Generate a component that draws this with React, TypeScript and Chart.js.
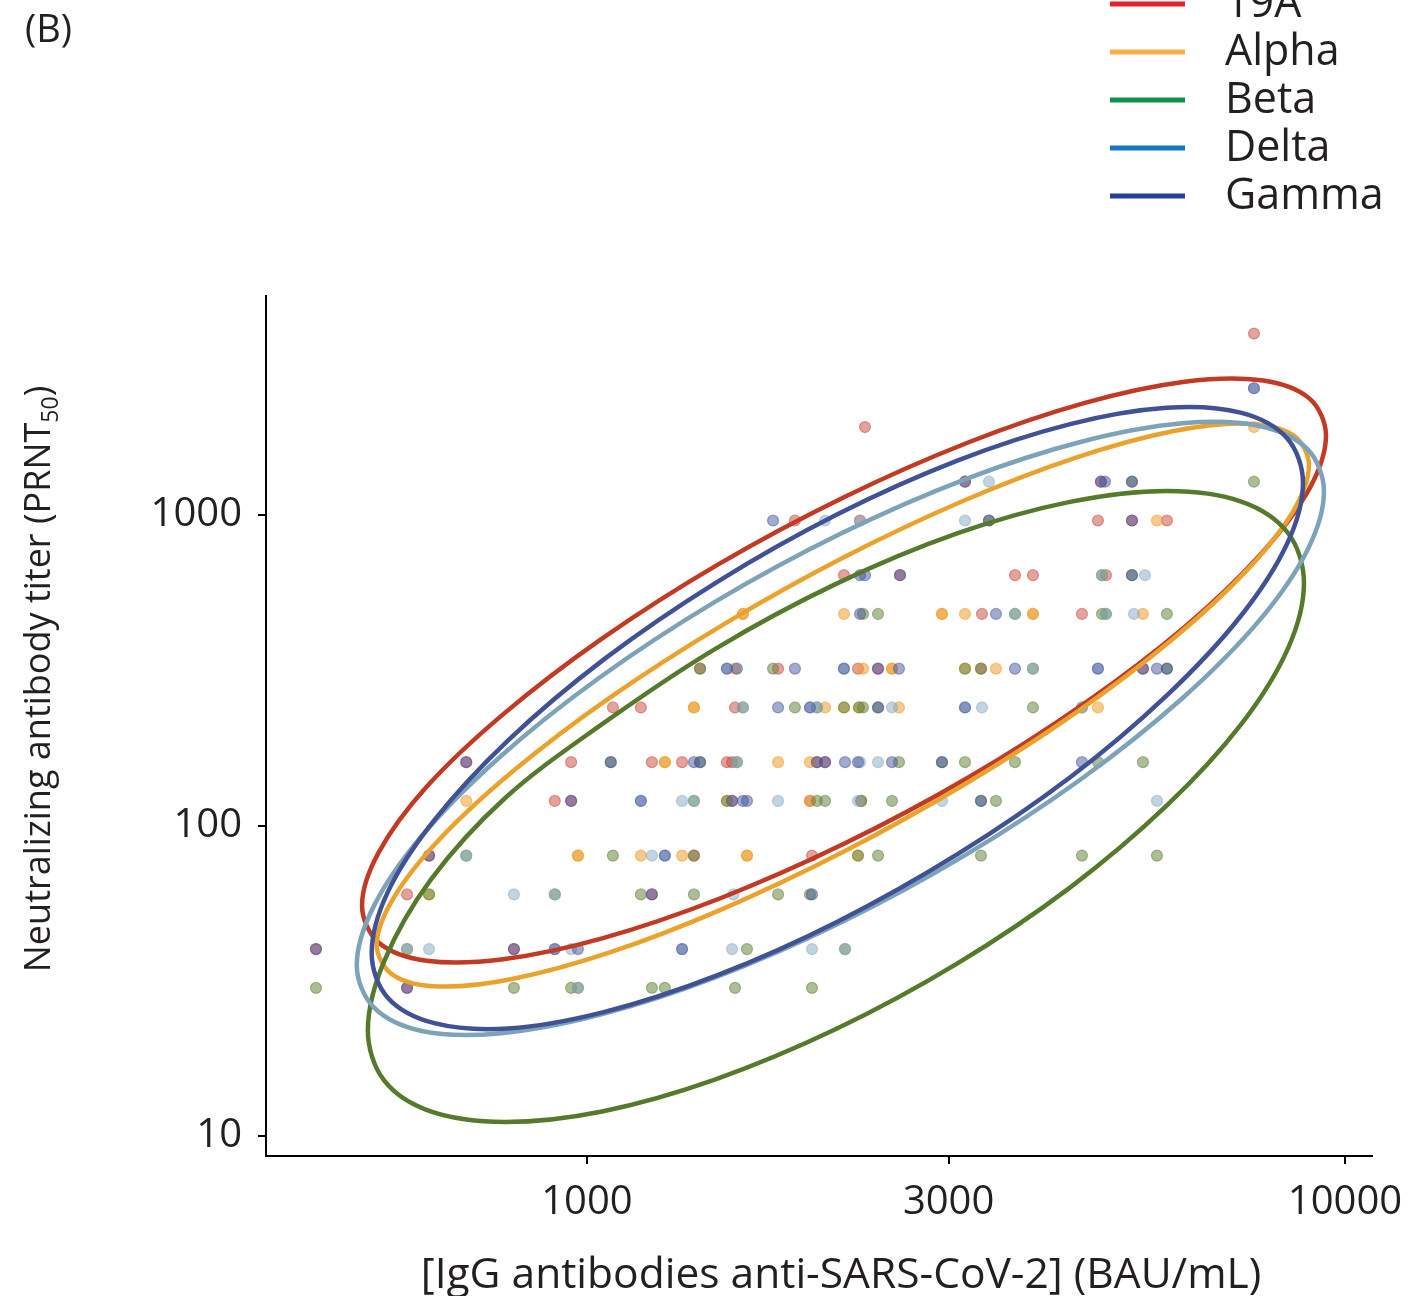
import React, { useEffect, useRef } from 'react';
import { Chart, registerables } from 'chart.js';
Chart.register(...registerables);

const variants = ['19A', 'Alpha', 'Beta', 'Delta', 'Gamma'];
const legendColors = ['#e8202a', '#f9ae45', '#10904a', '#1475c2', '#24409a'];
const ellipseColors = ['#c23a24', '#eba22c', '#567a2c', '#7ca3b9', '#405295'];
const pointColors = [
  'rgba(200,70,58,0.5)',
  'rgba(238,158,45,0.55)',
  'rgba(105,135,65,0.55)',
  'rgba(135,170,195,0.5)',
  'rgba(70,85,160,0.5)',
];
const xTicks = [1000, 3000, 10000];
const yTicks = [10, 100, 1000];
const xTitle = '[IgG antibodies anti-SARS-CoV-2] (BAU/mL)';
const yTitleMain = 'Neutralizing antibody titer (PRNT';
const yTitleSub = '50';
const yTitleEnd = ')';
const panelLabel = '(B)';

// scatter points [IgG BAU/mL, PRNT50]
const pts19A: number[][] = [
  [7585, 3840], [2327, 1920], [3153, 1280], [4765, 1280],
  [1881, 960], [2292, 960], [4722, 960], [5236, 960], [5823, 960],
  [2183, 640], [2588, 640], [3670, 640], [3876, 640], [4838, 640],
  [3320, 480], [4498, 480],
  [1410, 320], [1787, 320], [2278, 320], [2421, 320], [3310, 320], [5414, 320],
  [1082, 240], [1178, 240], [1568, 240],
  [693, 160], [953, 160], [1218, 160], [1335, 160], [1530, 160], [1554, 160], [2011, 160], [2061, 160],
  [907, 120], [953, 120], [1554, 120], [1969, 120], [2300, 120],
  [619, 80], [1384, 80], [1981, 80],
  [579, 60], [1218, 60],
  [439, 40], [801, 40],
  [579, 30],
];
const ptsAlpha: number[][] = [
  [7585, 1920], [5649, 960],
  [1606, 480], [1606, 480], [2183, 480], [2940, 480], [2940, 480], [3153, 480], [3876, 480], [3876, 480], [5414, 480],
  [1568, 320], [2313, 320], [2526, 320], [2526, 320], [3153, 320], [3464, 320],
  [1384, 240], [1384, 240], [2061, 240], [2183, 240], [2285, 240], [2580, 240], [4722, 240],
  [1267, 160], [1267, 160], [1787, 160], [1969, 160],
  [693, 120], [1530, 120], [1969, 120],
  [973, 80], [973, 80], [1178, 80], [1335, 80], [1626, 80], [1626, 80], [2278, 80],
  [619, 60],
];
const ptsBeta: number[][] = [
  [5236, 1280], [7585, 1280], [3391, 960], [4780, 640], [5236, 640],
  [2313, 480], [2421, 480], [3670, 480], [4780, 480], [4838, 480], [5823, 480],
  [1410, 320], [1760, 320], [3153, 320], [3310, 320], [3876, 320], [5823, 320],
  [1606, 240], [1881, 240], [2011, 240], [2183, 240], [2285, 240], [2313, 240], [2421, 240], [3876, 240], [4498, 240],
  [1075, 160], [1410, 160], [1577, 160], [2580, 160], [2940, 160], [3153, 160], [3670, 160], [4722, 160], [5414, 160],
  [1384, 120], [1530, 120], [2011, 120], [2061, 120], [2300, 120], [2526, 120], [3310, 120], [3464, 120],
  [693, 80], [1082, 80], [1384, 80], [2278, 80], [2421, 80], [3310, 80], [4498, 80], [5649, 80],
  [619, 60], [907, 60], [1178, 60], [1384, 60], [1787, 60], [1969, 60],
  [579, 40], [1626, 40], [2190, 40],
  [439, 30], [801, 30], [953, 30], [973, 30], [1218, 30], [1267, 30], [1568, 30], [1981, 30],
];
const ptsDelta: number[][] = [
  [7585, 2560], [3391, 1280], [2061, 960], [2292, 960], [3153, 960],
  [4780, 640], [5447, 640], [3670, 480], [4838, 480], [5268, 480],
  [1530, 320], [2183, 320], [3876, 320], [4722, 320],
  [1606, 240], [1969, 240], [2011, 240], [2526, 240], [3153, 240], [3320, 240], [4498, 240],
  [1577, 160], [2292, 160], [2421, 160],
  [1178, 120], [1335, 120], [1384, 120], [1787, 120], [2278, 120], [2940, 120], [5649, 120],
  [693, 80], [1218, 80], [1267, 80],
  [801, 60], [907, 60], [1560, 60],
  [579, 40], [619, 40], [907, 40], [953, 40], [1335, 40], [1554, 40], [1981, 40], [2190, 40],
  [973, 30],
];
const ptsGamma: number[][] = [
  [7585, 2560], [3153, 1280], [4765, 1280], [4824, 1280], [5236, 1280],
  [1760, 960], [3391, 960], [5236, 960],
  [2292, 640], [2327, 640], [2588, 640], [5236, 640],
  [2292, 480], [3464, 480],
  [1530, 320], [1577, 320], [1881, 320], [2183, 320], [2421, 320], [2580, 320], [3670, 320], [4722, 320], [5414, 320], [5649, 320], [5823, 320],
  [1787, 240], [1969, 240], [2421, 240], [3153, 240],
  [693, 160], [1075, 160], [1384, 160], [1410, 160], [2011, 160], [2061, 160], [2190, 160], [2278, 160], [2526, 160], [2940, 160], [4498, 160],
  [953, 120], [1178, 120], [1554, 120], [1606, 120], [1626, 120], [3310, 120],
  [619, 80], [1267, 80],
  [1218, 60], [1981, 60],
  [439, 40], [801, 40], [907, 40], [973, 40], [1335, 40],
  [579, 30],
];

// ellipse outlines estimated from the figure [IgG, PRNT50] (closed loops)
const ell19A: number[][] = [
  [9440, 1803], [8980, 1218], [7757, 751], [6147, 436], [4539, 248], [3189, 143], [2183, 87.3],
  [1494, 58.1], [1050, 43.4], [775, 37.1], [614, 36.7], [531, 42.0], [505, 55.3], [531, 81.8],
  [614, 133], [775, 228], [1050, 402], [1494, 696], [2183, 1141], [3189, 1715], [4539, 2296],
  [6147, 2686], [7757, 2714], [8980, 2370],
];
const ellAlpha: number[][] = [
  [8964, 1449], [8542, 1028], [7415, 662], [5922, 398], [4417, 231], [3139, 135], [2176, 82.1],
  [1509, 53.8], [1072, 39.0], [800, 32.1], [639, 30.3], [555, 33.0], [528, 41.2], [555, 58.1],
  [639, 90.3], [800, 150], [1072, 258], [1509, 442], [2176, 728], [3139, 1111], [4417, 1530],
  [5922, 1860], [7415, 1969], [8542, 1808],
];
const ellBeta: number[][] = [
  [8829, 604], [8411, 372], [7298, 212], [5822, 116], [4337, 63.1], [3078, 35.9], [2131, 22.1],
  [1475, 15.2], [1047, 12.0], [780, 11.1], [622, 12.0], [540, 15.1], [514, 21.9], [540, 36.5],
  [622, 66.8], [780, 122.6], [1047, 212], [1475, 370], [2131, 600], [3078, 872], [4337, 1102],
  [5822, 1195], [7298, 1105], [8411, 875],
];
const ellDelta: number[][] = [
  [9382, 1190], [8924, 772], [7706, 457], [6102, 257], [4502, 142], [3159, 80.4], [2160, 48.6],
  [1477, 32.4], [1036, 24.5], [765, 21.4], [605, 21.8], [523, 26.0], [497, 35.5], [523, 54.8],
  [605, 92.4], [765, 165], [1036, 298], [1477, 526], [2160, 870], [3159, 1305], [4502, 1725],
  [6102, 1974], [7706, 1935], [8924, 1629],
];
const ellGamma: number[][] = [
  [8803, 1268], [8388, 808], [7283, 472], [5817, 262], [4340, 143], [3086, 81.0], [2140, 49.0],
  [1484, 32.9], [1055, 25.1], [787, 22.2], [629, 23.1], [546, 27.9], [520, 38.8], [546, 61.0],
  [629, 104], [787, 188], [1055, 344], [1484, 608], [2140, 1005], [3086, 1499], [4340, 1962],
  [5817, 2214], [7283, 2136], [8388, 1766],
];

const pointSets = [pts19A, ptsAlpha, ptsBeta, ptsDelta, ptsGamma];
const ellipseSets = [ell19A, ellAlpha, ellBeta, ellDelta, ellGamma];

const FONT = '"Open Sans", "Noto Sans", sans-serif';

const loopPlugin = {
  id: 'closedLoops',
  afterDatasetUpdate(chart: any, args: any) {
    const ds = chart.data.datasets[args.index];
    if (ds && ds.closedLoop && args.meta.dataset) {
      args.meta.dataset._loop = true;
      args.meta.dataset._fullLoop = true;
    }
  },
};

const textPlugin = {
  id: 'customText',
  afterDraw(chart: any) {
    const ctx = chart.ctx as CanvasRenderingContext2D;
    ctx.save();
    ctx.fillStyle = '#231f20';
    ctx.textBaseline = 'middle';
    ctx.font = `38px ${FONT}`;
    ctx.textAlign = 'left';
    ctx.fillText(panelLabel, 25, 31);
    variants.forEach((v, i) => {
      const y = 4 + 48 * i;
      ctx.strokeStyle = legendColors[i];
      ctx.lineWidth = 5;
      ctx.beginPath();
      ctx.moveTo(1110, y);
      ctx.lineTo(1185, y);
      ctx.stroke();
      ctx.font = `43px ${FONT}`;
      ctx.fillText(v, 1225, y + 1);
    });
    ctx.font = `42.5px ${FONT}`;
    ctx.textAlign = 'center';
    ctx.fillText(xTitle, 841, 1276);
    ctx.translate(40, 679);
    ctx.rotate(-Math.PI / 2);
    const big = `36px ${FONT}`;
    const small = `23px ${FONT}`;
    ctx.font = big;
    const w1 = ctx.measureText(yTitleMain).width;
    ctx.font = small;
    const w2 = ctx.measureText(yTitleSub).width;
    ctx.font = big;
    const w3 = ctx.measureText(yTitleEnd).width;
    const x0 = -(w1 + w2 + w3) / 2;
    ctx.textAlign = 'left';
    ctx.font = big;
    ctx.fillText(yTitleMain, x0, 0);
    ctx.font = small;
    ctx.fillText(yTitleSub, x0 + w1, 11);
    ctx.font = big;
    ctx.fillText(yTitleEnd, x0 + w1 + w2, 0);
    ctx.restore();
  },
};

export default function App() {
  const ref = useRef<HTMLCanvasElement | null>(null);
  useEffect(() => {
    if (!ref.current) return;
    const toXY = (arr: number[][]) => arr.map((p) => ({ x: p[0], y: p[1] }));
    const ellipseDatasets = ellipseSets.map((e, i) => ({
      label: variants[i] + ' ellipse',
      data: toXY(e),
      closedLoop: true,
      showLine: true,
      borderColor: ellipseColors[i],
      backgroundColor: ellipseColors[i],
      borderWidth: 4.5,
      pointRadius: 0,
      pointHoverRadius: 0,
      tension: 0.34,
      fill: false,
      order: 4 - i,
    }));
    const pointDatasets = pointSets.map((p, i) => ({
      label: variants[i],
      data: toXY(p),
      showLine: false,
      backgroundColor: pointColors[i],
      borderColor: pointColors[i],
      borderWidth: 1.2,
      pointRadius: 5.5,
      pointHoverRadius: 5.5,
      order: 20 - i,
    }));
    const tickFont = { family: FONT, size: 40 };
    const chart = new Chart(ref.current, {
      type: 'scatter',
      data: { datasets: [...ellipseDatasets, ...pointDatasets] as any },
      options: {
        animation: false,
        responsive: false,
        maintainAspectRatio: false,
        layout: { padding: { left: 0, right: 42, top: 296, bottom: 0 } },
        plugins: { legend: { display: false }, tooltip: { enabled: false } },
        scales: {
          x: {
            type: 'logarithmic',
            min: 377.2,
            max: 10856,
            afterBuildTicks: (s: any) => {
              s.ticks = xTicks.map((v) => ({ value: v }));
            },
            afterFit: (s: any) => {
              s.height = 140;
              s.paddingLeft = 0;
              s.paddingRight = 0;
            },
            ticks: {
              autoSkip: false,
              maxRotation: 0,
              color: '#231f20',
              font: tickFont,
              padding: 15,
              callback: (v: any) => String(v),
            },
            grid: { drawOnChartArea: false, drawTicks: true, tickLength: 8, color: '#000', lineWidth: 2 },
            border: { display: true, color: '#000', width: 2 },
          },
          y: {
            type: 'logarithmic',
            min: 8.623,
            max: 5073,
            afterBuildTicks: (s: any) => {
              s.ticks = yTicks.map((v) => ({ value: v }));
            },
            afterFit: (s: any) => {
              s.width = 266;
              s.paddingTop = 0;
              s.paddingBottom = 0;
            },
            ticks: {
              autoSkip: false,
              color: '#231f20',
              font: tickFont,
              padding: 16,
              callback: (v: any) => String(v),
            },
            grid: { drawOnChartArea: false, drawTicks: true, tickLength: 8, color: '#000', lineWidth: 2 },
            border: { display: true, color: '#000', width: 2 },
          },
        },
      } as any,
      plugins: [loopPlugin, textPlugin],
    });
    return () => chart.destroy();
  }, []);
  return (
    <div style={{ position: 'absolute', left: 0, top: 0, width: 1414, height: 1296, background: '#fff' }}>
      <canvas ref={ref} width={1414} height={1296} style={{ width: 1414, height: 1296 }} />
    </div>
  );
}
